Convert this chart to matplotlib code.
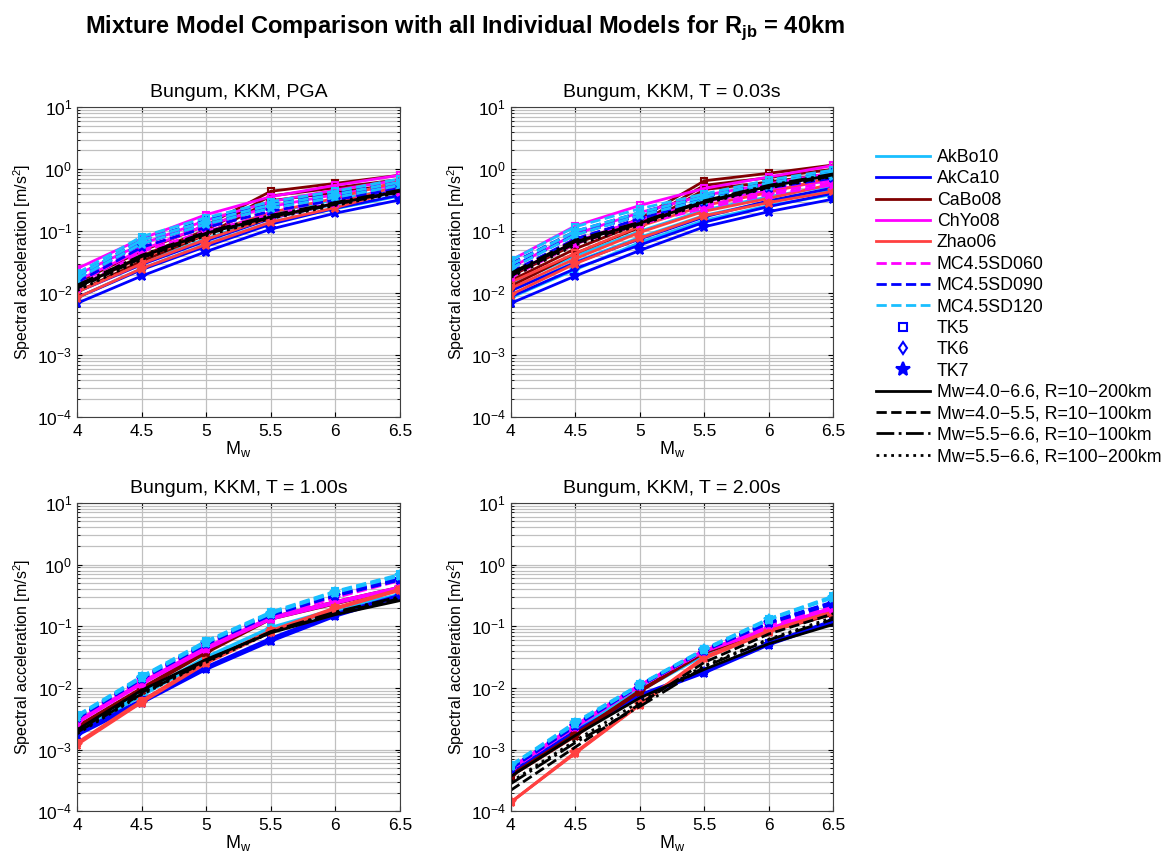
import matplotlib.pyplot as plt
from matplotlib.lines import Line2D
import numpy as np

plt.rcParams['font.family'] = ['Liberation Sans', 'DejaVu Sans']

# Magnitudes at which every model is evaluated
mags = [4.0, 4.5, 5.0, 5.5, 6.0, 6.5]

# Each model: three kappa variants [TK5, TK6, TK7], spectral accel. in m/s^2
# --- PGA ---
akbo10_pga = [[0.013, 0.038, 0.092, 0.20, 0.32, 0.50],
              [0.0105, 0.031, 0.076, 0.17, 0.27, 0.43],
              [0.0085, 0.025, 0.062, 0.14, 0.23, 0.37]]
akca10_pga = [[0.0105, 0.029, 0.070, 0.16, 0.28, 0.46],
              [0.0085, 0.024, 0.057, 0.13, 0.235, 0.38],
              [0.0069, 0.019, 0.047, 0.108, 0.195, 0.32]]
cabo08_pga = [[0.015, 0.048, 0.125, 0.44, 0.59, 0.80],
              [0.0125, 0.040, 0.105, 0.37, 0.50, 0.68],
              [0.0105, 0.033, 0.088, 0.31, 0.42, 0.58]]
chyo08_pga = [[0.025, 0.076, 0.185, 0.36, 0.55, 0.80],
              [0.020, 0.062, 0.150, 0.30, 0.46, 0.67],
              [0.016, 0.050, 0.125, 0.25, 0.39, 0.57]]
zhao06_pga = [[0.013, 0.037, 0.090, 0.20, 0.34, 0.64],
              [0.0105, 0.030, 0.074, 0.165, 0.28, 0.54],
              [0.0085, 0.025, 0.061, 0.14, 0.24, 0.46]]
mc060_pga = [[0.016, 0.062, 0.130, 0.24, 0.36, 0.55],
             [0.014, 0.054, 0.115, 0.21, 0.32, 0.49],
             [0.012, 0.047, 0.100, 0.185, 0.28, 0.43]]
mc090_pga = [[0.019, 0.072, 0.150, 0.27, 0.40, 0.62],
             [0.017, 0.063, 0.130, 0.24, 0.36, 0.55],
             [0.015, 0.055, 0.115, 0.21, 0.32, 0.49]]
mc120_pga = [[0.021, 0.082, 0.165, 0.30, 0.44, 0.70],
             [0.019, 0.072, 0.145, 0.265, 0.39, 0.62],
             [0.017, 0.063, 0.130, 0.235, 0.35, 0.55]]
mix_pga = [[0.0125, 0.039, 0.093, 0.17, 0.28, 0.44],
           [0.012, 0.037, 0.090, 0.165, 0.27, 0.43],
           [0.0135, 0.041, 0.097, 0.18, 0.29, 0.46],
           [0.011, 0.035, 0.085, 0.16, 0.26, 0.42]]

# --- T = 0.03 s ---
akbo10_003 = [[0.014, 0.040, 0.100, 0.22, 0.36, 0.55],
              [0.011, 0.032, 0.080, 0.18, 0.30, 0.46],
              [0.0085, 0.024, 0.066, 0.15, 0.26, 0.39]]
akca10_003 = [[0.011, 0.031, 0.075, 0.17, 0.31, 0.50],
              [0.0088, 0.025, 0.060, 0.14, 0.25, 0.41],
              [0.0069, 0.019, 0.049, 0.118, 0.207, 0.33]]
cabo08_003 = [[0.019, 0.062, 0.160, 0.65, 0.86, 1.17],
              [0.016, 0.052, 0.135, 0.55, 0.73, 1.00],
              [0.013, 0.044, 0.115, 0.47, 0.62, 0.85]]
chyo08_003 = [[0.034, 0.122, 0.260, 0.49, 0.75, 1.15],
              [0.026, 0.090, 0.200, 0.38, 0.58, 0.88],
              [0.020, 0.068, 0.155, 0.30, 0.45, 0.68]]
zhao06_003 = [[0.015, 0.044, 0.120, 0.26, 0.42, 0.75],
              [0.012, 0.036, 0.096, 0.21, 0.34, 0.58],
              [0.0095, 0.030, 0.077, 0.177, 0.29, 0.44]]
mc060_003 = [[0.025, 0.090, 0.180, 0.30, 0.48, 0.72],
             [0.021, 0.075, 0.155, 0.26, 0.42, 0.62],
             [0.018, 0.063, 0.130, 0.235, 0.39, 0.56]]
mc090_003 = [[0.030, 0.100, 0.200, 0.36, 0.60, 0.90],
             [0.026, 0.088, 0.180, 0.33, 0.55, 0.82],
             [0.022, 0.075, 0.160, 0.30, 0.50, 0.72]]
mc120_003 = [[0.034, 0.118, 0.230, 0.40, 0.67, 0.97],
             [0.029, 0.100, 0.200, 0.36, 0.60, 0.88],
             [0.025, 0.087, 0.180, 0.32, 0.54, 0.78]]
mix_003 = [[0.020, 0.068, 0.134, 0.30, 0.53, 0.81],
           [0.019, 0.064, 0.130, 0.29, 0.51, 0.78],
           [0.021, 0.072, 0.140, 0.31, 0.55, 0.84],
           [0.018, 0.060, 0.125, 0.28, 0.50, 0.76]]

# --- T = 1.00 s ---
akbo10_100 = [[0.0021, 0.0082, 0.032, 0.096, 0.19, 0.33],
              [0.0020, 0.0078, 0.030, 0.092, 0.18, 0.32],
              [0.0019, 0.0074, 0.029, 0.088, 0.175, 0.31]]
akca10_100 = [[0.0019, 0.0064, 0.022, 0.064, 0.16, 0.32],
              [0.0018, 0.0060, 0.021, 0.060, 0.152, 0.31],
              [0.0017, 0.0057, 0.020, 0.057, 0.145, 0.30]]
cabo08_100 = [[0.0024, 0.0100, 0.040, 0.140, 0.25, 0.43],
              [0.0023, 0.0097, 0.038, 0.135, 0.24, 0.42],
              [0.0022, 0.0093, 0.037, 0.130, 0.23, 0.41]]
chyo08_100 = [[0.0029, 0.0125, 0.046, 0.140, 0.25, 0.43],
              [0.0028, 0.0120, 0.044, 0.135, 0.24, 0.42],
              [0.0027, 0.0115, 0.042, 0.130, 0.235, 0.41]]
zhao06_100 = [[0.0013, 0.0062, 0.027, 0.085, 0.20, 0.40],
              [0.00125, 0.0060, 0.026, 0.082, 0.195, 0.39],
              [0.0012, 0.0058, 0.025, 0.080, 0.19, 0.38]]
mc060_100 = [[0.0032, 0.0140, 0.052, 0.150, 0.31, 0.58],
             [0.0031, 0.0135, 0.050, 0.145, 0.30, 0.56],
             [0.0030, 0.0130, 0.048, 0.140, 0.29, 0.55]]
mc090_100 = [[0.0034, 0.0148, 0.055, 0.160, 0.33, 0.60],
             [0.0033, 0.0143, 0.053, 0.155, 0.32, 0.58],
             [0.0032, 0.0138, 0.051, 0.150, 0.31, 0.56]]
mc120_100 = [[0.0036, 0.0155, 0.058, 0.170, 0.37, 0.69],
             [0.0035, 0.0150, 0.056, 0.165, 0.36, 0.67],
             [0.0034, 0.0145, 0.054, 0.160, 0.35, 0.65]]
mix_100 = [[0.0021, 0.0092, 0.029, 0.078, 0.154, 0.26],
           [0.0020, 0.0085, 0.028, 0.080, 0.160, 0.28],
           [0.0019, 0.0080, 0.027, 0.082, 0.170, 0.30],
           [0.0018, 0.0078, 0.026, 0.079, 0.165, 0.29]]

# --- T = 2.00 s ---
akbo10_200 = [[0.00046, 0.0022, 0.0095, 0.036, 0.088, 0.185],
              [0.00045, 0.0021, 0.0092, 0.035, 0.085, 0.18],
              [0.00044, 0.0020, 0.0089, 0.034, 0.082, 0.175]]
akca10_200 = [[0.00043, 0.0020, 0.0078, 0.019, 0.054, 0.125],
              [0.00042, 0.0019, 0.0075, 0.018, 0.052, 0.12],
              [0.00041, 0.0018, 0.0072, 0.0175, 0.050, 0.115]]
cabo08_200 = [[0.00039, 0.0018, 0.0091, 0.039, 0.087, 0.165],
              [0.00038, 0.0017, 0.0089, 0.038, 0.085, 0.16],
              [0.00037, 0.00165, 0.0087, 0.037, 0.083, 0.155]]
chyo08_200 = [[0.00051, 0.0025, 0.0112, 0.041, 0.092, 0.205],
              [0.00050, 0.0024, 0.0110, 0.040, 0.090, 0.20],
              [0.00049, 0.0023, 0.0108, 0.039, 0.088, 0.195]]
zhao06_200 = [[0.00014, 0.00091, 0.0055, 0.032, 0.085, 0.175],
              [0.00014, 0.00089, 0.0054, 0.031, 0.083, 0.17],
              [0.00014, 0.00087, 0.0053, 0.030, 0.081, 0.165]]
mc060_200 = [[0.00049, 0.0025, 0.0110, 0.041, 0.110, 0.21],
             [0.00048, 0.0024, 0.0108, 0.040, 0.107, 0.20],
             [0.00047, 0.0023, 0.0106, 0.039, 0.104, 0.19]]
mc090_200 = [[0.00051, 0.0026, 0.0112, 0.042, 0.118, 0.25],
             [0.00050, 0.0025, 0.0110, 0.041, 0.115, 0.24],
             [0.00049, 0.0024, 0.0108, 0.040, 0.112, 0.23]]
mc120_200 = [[0.00056, 0.0028, 0.0115, 0.043, 0.133, 0.31],
             [0.00055, 0.0027, 0.0113, 0.042, 0.130, 0.30],
             [0.00054, 0.0026, 0.0111, 0.041, 0.127, 0.29]]
mix_200 = [[0.00037, 0.0017, 0.0069, 0.020, 0.052, 0.107],
           [0.00022, 0.0011, 0.0055, 0.026, 0.075, 0.16],
           [0.00028, 0.0013, 0.0050, 0.022, 0.060, 0.13],
           [0.00030, 0.0014, 0.0060, 0.023, 0.062, 0.14]]

panel_titles = ['Bungum, KKM, PGA', 'Bungum, KKM, T = 0.03s',
                'Bungum, KKM, T = 1.00s', 'Bungum, KKM, T = 2.00s']

model_names = ['AkBo10', 'AkCa10', 'CaBo08', 'ChYo08', 'Zhao06',
               'MC4.5SD060', 'MC4.5SD090', 'MC4.5SD120']
kappa_names = ['TK5', 'TK6', 'TK7']
mix_names = ['Mw=4.0\u22126.6, R=10\u2212200km', 'Mw=4.0\u22125.5, R=10\u2212100km',
             'Mw=5.5\u22126.6, R=10\u2212100km', 'Mw=5.5\u22126.6, R=100\u2212200km']

panels = [
    [akbo10_pga, akca10_pga, cabo08_pga, chyo08_pga, zhao06_pga, mc060_pga, mc090_pga, mc120_pga, mix_pga],
    [akbo10_003, akca10_003, cabo08_003, chyo08_003, zhao06_003, mc060_003, mc090_003, mc120_003, mix_003],
    [akbo10_100, akca10_100, cabo08_100, chyo08_100, zhao06_100, mc060_100, mc090_100, mc120_100, mix_100],
    [akbo10_200, akca10_200, cabo08_200, chyo08_200, zhao06_200, mc060_200, mc090_200, mc120_200, mix_200],
]

colors = ['#19bfff', '#0000ff', '#800000', '#ff00ff', '#ff4040',
          '#ff00ff', '#0000ff', '#19bfff']
styles = ['-'] * 5 + ['--'] * 3
markers = ['s', 'd', '*']
mix_styles = ['-', '--', '-.', ':']

fig = plt.figure(figsize=(11.69, 8.64), dpi=100)
boxes = [[0.066, 0.517, 0.276, 0.359], [0.437, 0.517, 0.276, 0.359],
         [0.066, 0.061, 0.276, 0.357], [0.437, 0.061, 0.276, 0.357]]

for box, title, data in zip(boxes, panel_titles, panels):
    ax = fig.add_axes(box)
    for model, col, ls in zip(data[:8], colors, styles):
        for vals, mk in zip(model, markers):
            ms = 8 if mk == '*' else 4.5
            mfc = col if mk == '*' else 'none'
            ax.plot(mags, vals, ls, color=col, lw=2, marker=mk, ms=ms,
                    mfc=mfc, mec=col, mew=1.5)
    for vals, ls in zip(data[8], mix_styles):
        ax.plot(mags, vals, ls, color='black', lw=2)

    ax.set_yscale('log')
    ax.set_xlim(4, 6.5)
    ax.set_ylim(1e-4, 1e1)
    ax.set_xticks(mags)
    ax.set_xticklabels(['4', '4.5', '5', '5.5', '6', '6.5'])
    ax.grid(True, which='major', color='#c0c0c0', lw=0.9)
    ax.grid(True, which='minor', axis='y', color='#c0c0c0', lw=0.9)
    ax.tick_params(which='both', direction='in', labelsize=12.5, top=True, right=True)
    ax.tick_params(axis='x', pad=5)
    ax.set_title(title, fontsize=14, pad=7)
    ax.set_xlabel('M$_\\mathregular{w}$', fontsize=13, labelpad=0)
    ax.set_ylabel('Spectral acceleration [m/s$^\\mathregular{2}$]', fontsize=11.5, labelpad=3)
    for sp in ax.spines.values():
        sp.set_color('#404040')

fig.suptitle('Mixture Model Comparison with all Individual Models for R$_\\mathregular{jb}$ = 40km',
             x=0.398, y=0.985, fontsize=17, fontweight='bold')

# Shared legend on the right
handles = []
for name, col, ls in zip(model_names, colors, styles):
    handles.append(Line2D([], [], color=col, ls=ls, lw=2, label=name))
for name, mk in zip(kappa_names, markers):
    ms = 10 if mk == '*' else 6
    mfc = 'blue' if mk == '*' else 'none'
    handles.append(Line2D([], [], color='blue', ls='none', marker=mk, ms=ms,
                          mfc=mfc, mec='blue', mew=1.5, label=name))
for name, ls in zip(mix_names, mix_styles):
    handles.append(Line2D([], [], color='black', ls=ls, lw=2, label=name))

fig.legend(handles=handles, loc='upper left', bbox_to_anchor=(0.736, 0.846),
           frameon=False, fontsize=12.8, handlelength=3.0, labelspacing=0.245,
           handletextpad=0.4)

fig.savefig('out.png', dpi=100)
